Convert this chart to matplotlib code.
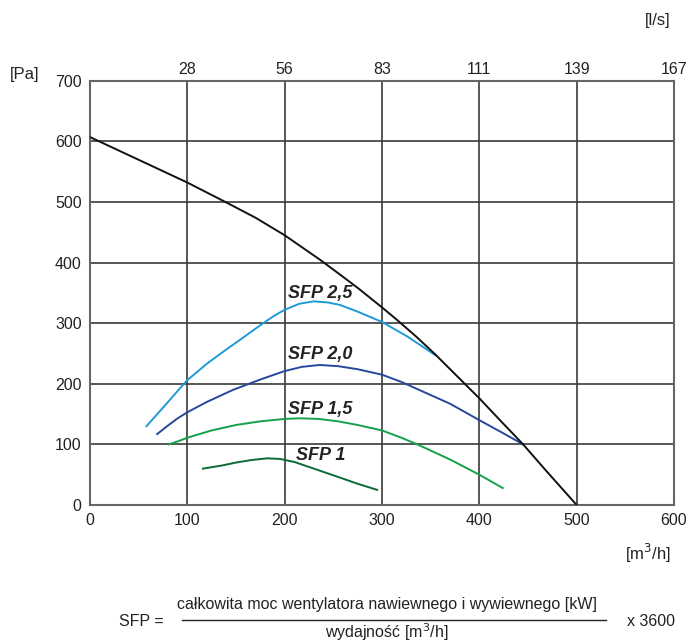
import matplotlib
matplotlib.use("Agg")
import matplotlib.pyplot as plt
from matplotlib.lines import Line2D

plt.rcParams["font.family"] = ["Liberation Sans", "DejaVu Sans"]

# Fan characteristic and SFP iso-lines, airflow [m3/h] vs. static pressure [Pa]
fan_q = [0, 36, 72, 100, 139, 170, 200, 236, 257, 276, 300, 315, 335, 355, 385, 400, 420, 445, 470, 500]
fan_p = [607, 580, 553, 532, 500, 474, 445, 405, 380, 357, 326, 306, 278, 248, 200, 176, 142, 100, 54, 0]

sfp25_q = [58, 68, 78, 91, 100, 120, 137, 158, 178, 190, 200, 215, 230, 245, 257, 275, 300, 326, 355]
sfp25_p = [130, 148, 166, 190, 206, 233, 253, 277, 300, 313, 322, 332, 336, 334, 330, 319, 302, 278, 247]

sfp20_q = [69, 80, 90, 100, 120, 147, 175, 200, 218, 236, 255, 275, 300, 320, 338, 370, 400, 425, 445]
sfp20_p = [117, 131, 143, 153, 170, 190, 207, 221, 228, 231, 229, 224, 215, 203, 190, 167, 140, 118, 100]

sfp15_q = [81, 92, 100, 125, 150, 175, 200, 215, 235, 255, 275, 300, 320, 339, 370, 400, 412, 424]
sfp15_p = [100, 106, 111, 123, 132, 138, 142, 143, 142, 138, 132, 123, 111, 98, 75, 50, 39, 28]

sfp10_q = [116, 135, 150, 165, 182, 195, 210, 230, 250, 275, 295]
sfp10_p = [60, 65, 70, 74, 77, 76, 71, 60, 49, 35, 25]

sfp_labels = ["SFP 2,5", "SFP 2,0", "SFP 1,5", "SFP 1"]
label_q = [237, 237, 237, 237]
label_p = [349, 248, 158, 81]

q_ticks = [0, 100, 200, 300, 400, 500, 600]
p_ticks = [0, 100, 200, 300, 400, 500, 600, 700]
ls_ticks = [28, 56, 83, 111, 139, 167]

W, H = 687, 644
fig = plt.figure(figsize=(W / 100, H / 100), dpi=100)

ax = fig.add_axes([90 / W, 1 - 505 / H, 584 / W, 424.3 / H])
ax.set_xlim(0, 600)
ax.set_ylim(0, 700)

grid_col = "#3a3a3a"
for q in q_ticks[1:-1]:
    ax.axvline(q, color=grid_col, lw=1.2, zorder=1)
for p in p_ticks[1:-1]:
    ax.axhline(p, color=grid_col, lw=1.2, zorder=1)
for s in ax.spines.values():
    s.set_color("#666666")
    s.set_linewidth(1.5)

ax.set_xticks(q_ticks)
ax.set_yticks(p_ticks)
ax.tick_params(length=0, labelsize=11.5, pad=6, colors="#222222")

top = ax.secondary_xaxis("top")
top.set_xticks(q_ticks[1:], labels=[str(v) for v in ls_ticks])
top.tick_params(length=0, labelsize=11.5, pad=3, colors="#222222")
top.spines["top"].set_visible(False)

ax.plot(fan_q, fan_p, color="#111111", lw=1.4, zorder=3)
ax.plot(sfp25_q, sfp25_p, color="#1e9bd7", lw=1.4, zorder=2)
ax.plot(sfp20_q, sfp20_p, color="#24489c", lw=1.4, zorder=2)
ax.plot(sfp15_q, sfp15_p, color="#16a04a", lw=1.4, zorder=2)
ax.plot(sfp10_q, sfp10_p, color="#0c6a33", lw=1.4, zorder=2)

for txt, q, p in zip(sfp_labels, label_q, label_p):
    ax.text(q, p, txt, ha="center", va="center", fontsize=13,
            fontweight="bold", fontstyle="italic", color="#222222", zorder=4)

def fx(x):
    return x / W

def fy(y):
    return 1 - y / H

fig.text(fx(25), fy(75), "[Pa]", ha="center", va="center", fontsize=12, color="#222222")
fig.text(fx(658), fy(20), "[l/s]", ha="center", va="center", fontsize=12, color="#222222")
fig.text(fx(648), fy(553), "[m$^3$/h]", ha="center", va="center", fontsize=12, color="#222222")

fig.text(fx(141), fy(621), "SFP =", ha="center", va="center", fontsize=11.5, color="#222222")
fig.text(fx(387), fy(604), "całkowita moc wentylatora nawiewnego i wywiewnego [kW]",
         ha="center", va="center", fontsize=11.5, color="#222222")
fig.text(fx(387), fy(632), "wydajność [m$^3$/h]", ha="center", va="center",
         fontsize=11.5, color="#222222")
fig.text(fx(651), fy(621), "x 3600", ha="center", va="center", fontsize=11.5, color="#222222")
fig.add_artist(Line2D([fx(182), fx(606)], [fy(620), fy(620)], color="#222222", lw=1.0))

fig.savefig("out.png", dpi=100)
